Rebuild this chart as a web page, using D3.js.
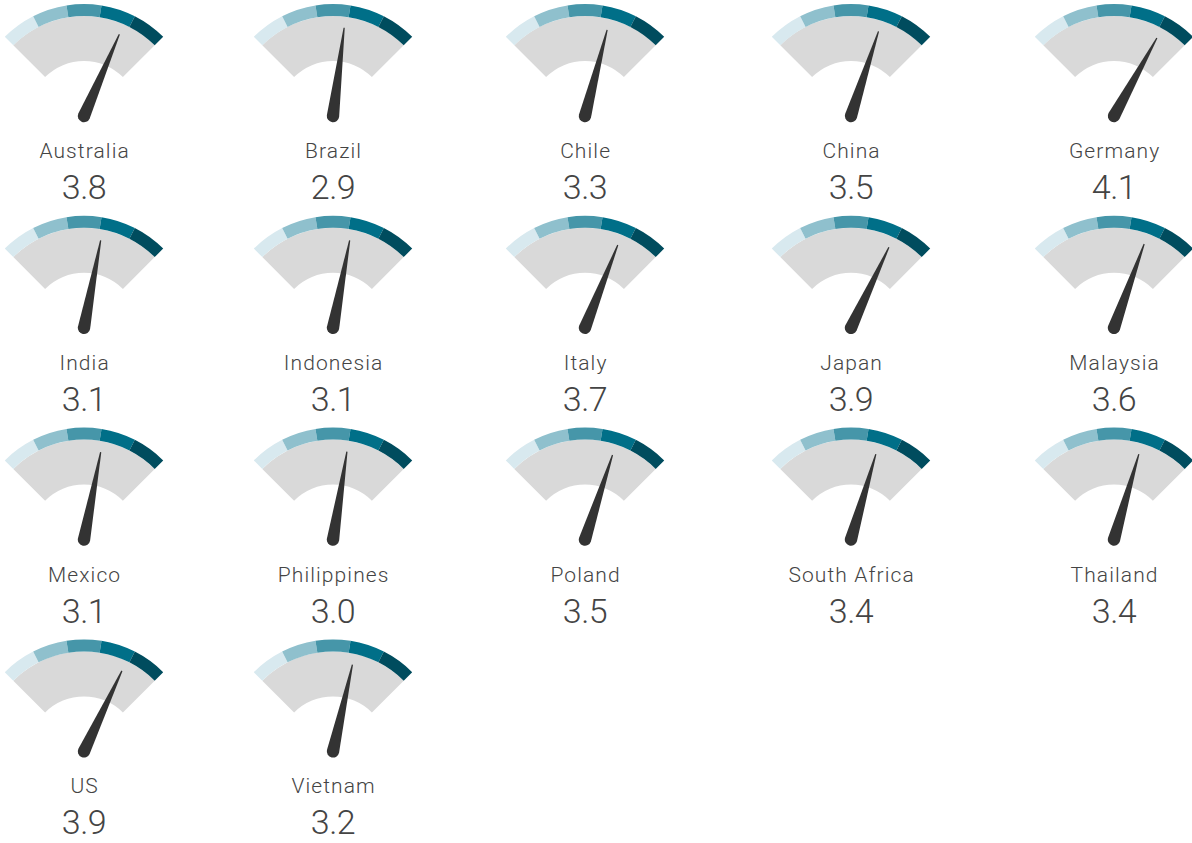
<!DOCTYPE html>
<html>
<head>
<meta charset="utf-8">
<script src="https://cdn.jsdelivr.net/npm/d3@7"></script>
<style>
  html, body { margin: 0; padding: 0; background: #fff; }
  svg { display: block; }
</style>
</head>
<body>
<svg id="chart" width="1192" height="843"></svg>
<script>
const countries = ["Australia","Brazil","Chile","China","Germany",
  "India","Indonesia","Italy","Japan","Malaysia",
  "Mexico","Philippines","Poland","South Africa","Thailand",
  "US","Vietnam"];
const values = [3.8,2.9,3.3,3.5,4.1,
  3.1,3.1,3.7,3.9,3.6,
  3.1,3.0,3.5,3.4,3.4,
  3.9,3.2];
const bandBreaks = [0,1,2,3,4,5];
const bandColors = ["#d8e9ef","#8fc0cd","#4696a9","#006f88","#004c5e"];

const svg = d3.select("#chart");
const colCenters = [84, 333, 585, 851, 1114];
const rowStart = 116, rowStep = 211.8;

const angle = d3.scaleLinear().domain([0,5]).range([-Math.PI/4, Math.PI/4]);

const rOuter = 112, rBandIn = 100, rInner = 55;
const greyArc = d3.arc().innerRadius(rInner).outerRadius(rBandIn)
  .startAngle(angle(0)).endAngle(angle(5));
const bandArc = d3.arc().innerRadius(rBandIn).outerRadius(rOuter);

const needleLen = 89, needleBase = 6.2;
function needlePath() {
  const p = d3.path();
  p.moveTo(-0.6, -needleLen);
  p.lineTo(0.6, -needleLen);
  p.lineTo(needleBase, 0);
  p.arc(0, 0, needleBase, 0, Math.PI, false);
  p.closePath();
  return p.toString();
}

const items = countries.map((c, i) => ({name: c, value: values[i], i}));

const g = svg.selectAll("g.gauge").data(items).join("g")
  .attr("class", "gauge")
  .attr("transform", d => `translate(${colCenters[d.i % 5]},${rowStart + Math.floor(d.i / 5) * rowStep})`);

g.append("path").attr("d", greyArc()).attr("fill", "#d9d9d9");

g.selectAll("path.band").data(bandColors.map((col, k) => ({col, k}))).join("path")
  .attr("class", "band")
  .attr("d", b => bandArc({startAngle: angle(bandBreaks[b.k]), endAngle: angle(bandBreaks[b.k + 1])}))
  .attr("fill", b => b.col);

g.append("path")
  .attr("d", needlePath())
  .attr("transform", d => `rotate(${angle(d.value) * 180 / Math.PI})`)
  .attr("fill", "#333333");

g.append("text")
  .attr("x", 0.6).attr("y", 42)
  .attr("text-anchor", "middle")
  .attr("font-family", "Roboto, sans-serif")
  .attr("font-weight", 300)
  .attr("font-size", 21)
  .attr("letter-spacing", 1.1)
  .attr("fill", "#444")
  .text(d => d.name);

g.append("text")
  .attr("x", 0).attr("y", 83)
  .attr("text-anchor", "middle")
  .attr("font-family", "Roboto, sans-serif")
  .attr("font-weight", 300)
  .attr("font-size", 34)
  .attr("letter-spacing", -0.5)
  .attr("fill", "#444")
  .text(d => d3.format(".1f")(d.value));
</script>
</body>
</html>
